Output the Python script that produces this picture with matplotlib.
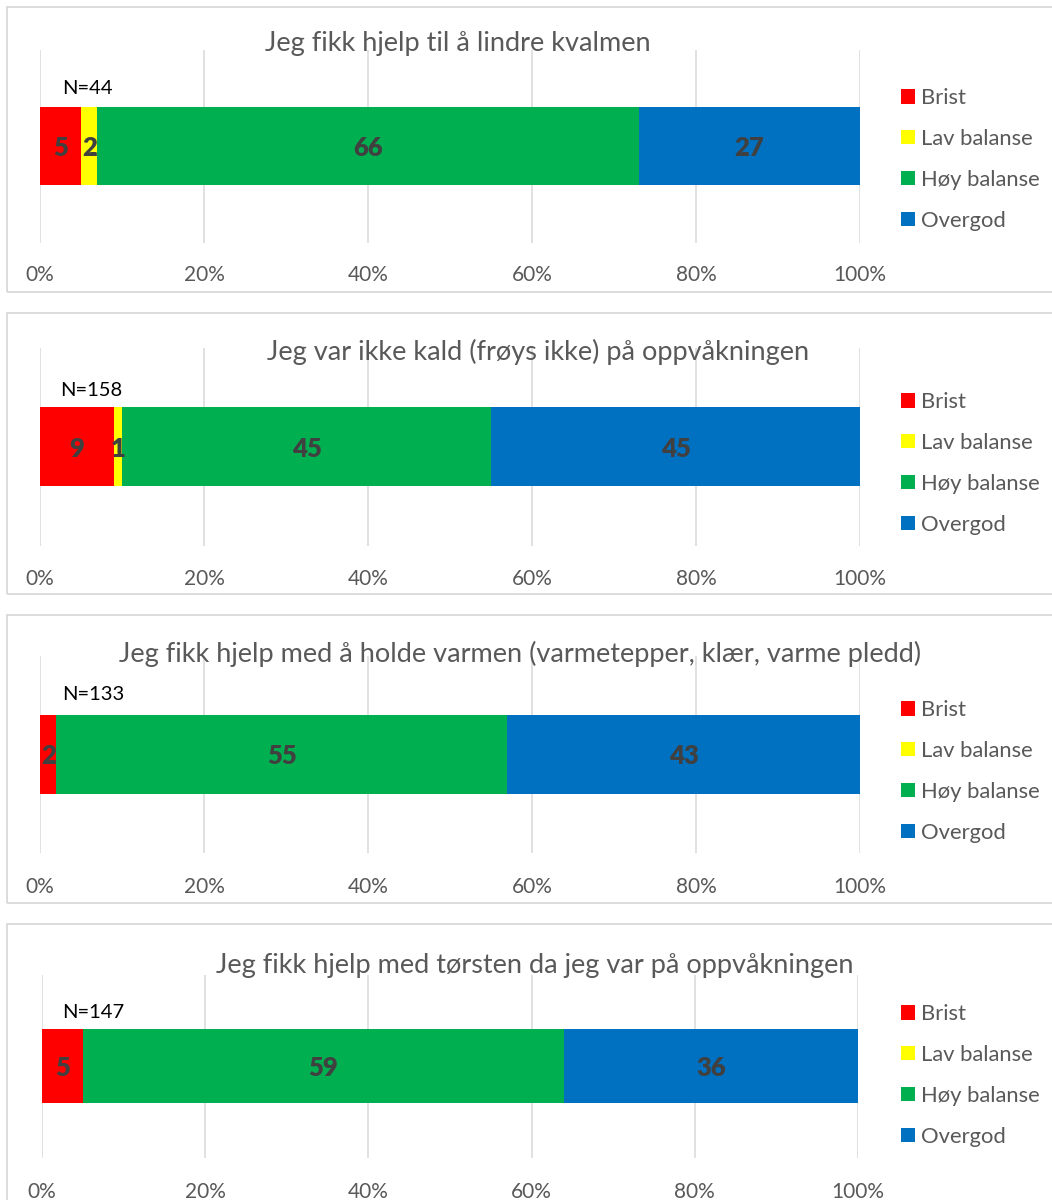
import matplotlib
matplotlib.use("Agg")
import matplotlib.pyplot as plt
from matplotlib.patches import Rectangle, Patch

plt.rcParams['font.family'] = ['Lato', 'DejaVu Sans']

titles = [
    "Jeg fikk hjelp til å lindre kvalmen",
    "Jeg var ikke kald (frøys ikke) på oppvåkningen",
    "Jeg fikk hjelp med å holde varmen (varmetepper, klær, varme pledd)",
    "Jeg fikk hjelp med tørsten da jeg var på oppvåkningen",
]
n_resp = [44, 158, 133, 147]
categories = ["Brist", "Lav balanse", "Høy balanse", "Overgod"]
brist = [5, 9, 2, 5]
lav = [2, 1, 0, 0]
hoy = [66, 45, 55, 59]
overgod = [27, 45, 43, 36]
ticks = [0, 20, 40, 60, 80, 100]
tick_labels = ["0%", "20%", "40%", "60%", "80%", "100%"]

colors = ["#ff0000", "#ffff00", "#00b050", "#0070c0"]
series = [brist, lav, hoy, overgod]

W, H = 1052, 1200
fig = plt.figure(figsize=(W / 100, H / 100), dpi=100)

# panel layout in pixels (top-left origin)
frame_y = [(7, 292), (313, 594), (615, 903), (924, 1210)]
grid_y = [(50, 243), (348, 546), (656, 853), (975, 1158)]
bar_y = [(107, 185), (407, 486), (715, 794), (1029, 1103)]
axis_x = [(40, 860), (40, 860), (40, 860), (42, 858)]
tick_y = [273, 577, 885, 1190]
title_pos = [(458, 43), (538, 352), (520, 654), (535, 965)]
n_pos = [(62, 88), (60, 390), (62, 694), (62, 1012)]
legend_y = [96, 400, 708, 1012]


def fx(x):
    return x / W


def fy(y):
    return 1 - y / H


for i in range(4):
    # light grey frame around each chart
    ft, fb = frame_y[i]
    fig.patches.append(Rectangle((fx(7), fy(fb)), fx(1080 - 7), (fb - ft) / H,
                                 transform=fig.transFigure, fill=False,
                                 edgecolor="#d9d9d9", linewidth=1.3))

    gt, gb = grid_y[i]
    x0, x1 = axis_x[i]
    ax = fig.add_axes([fx(x0), fy(gb), (x1 - x0) / W, (gb - gt) / H])
    ax.set_xlim(0, 100)
    ax.set_ylim(0, 1)
    for s in ax.spines.values():
        s.set_visible(False)
    ax.set_yticks([])
    ax.set_xticks(ticks, tick_labels)
    ax.tick_params(axis="x", length=0, labelsize=15, labelcolor="#595959",
                   pad=(tick_y[i] - gb - 8) * 0.72)
    ax.grid(axis="x", color="#d9d9d9", linewidth=1.1)
    ax.set_axisbelow(True)

    bt, bb = bar_y[i]
    yc = (gb - (bt + bb) / 2) / (gb - gt)
    hgt = (bb - bt) / (gb - gt)
    left = 0
    for vals, c in zip(series, colors):
        v = vals[i]
        ax.barh(yc, v, left=left, height=hgt, color=c, linewidth=0)
        if v > 0:
            ax.text(left + v / 2, yc, str(v), ha="center", va="center_baseline",
                    fontsize=18.5, fontweight="heavy", color="#404040")
        left += v

    tx, ty = title_pos[i]
    fig.text(fx(tx), fy(ty), titles[i], ha="center", va="center",
             fontsize=19.5, color="#595959")
    nx, ny = n_pos[i]
    fig.text(fx(nx), fy(ny), f"N={n_resp[i]}", ha="left", va="center",
             fontsize=14.5, color="#000000")

    handles = [Patch(facecolor=c, edgecolor="none") for c in colors]
    fig.legend(handles, categories, loc="upper left",
               bbox_to_anchor=(fx(901), fy(legend_y[i] - 8)),
               frameon=False, fontsize=15.8, labelcolor="#595959",
               handlelength=0.64, handleheight=0.64, handletextpad=0.25,
               labelspacing=0.95, borderpad=0, borderaxespad=0)

fig.savefig("out.png", dpi=100)
